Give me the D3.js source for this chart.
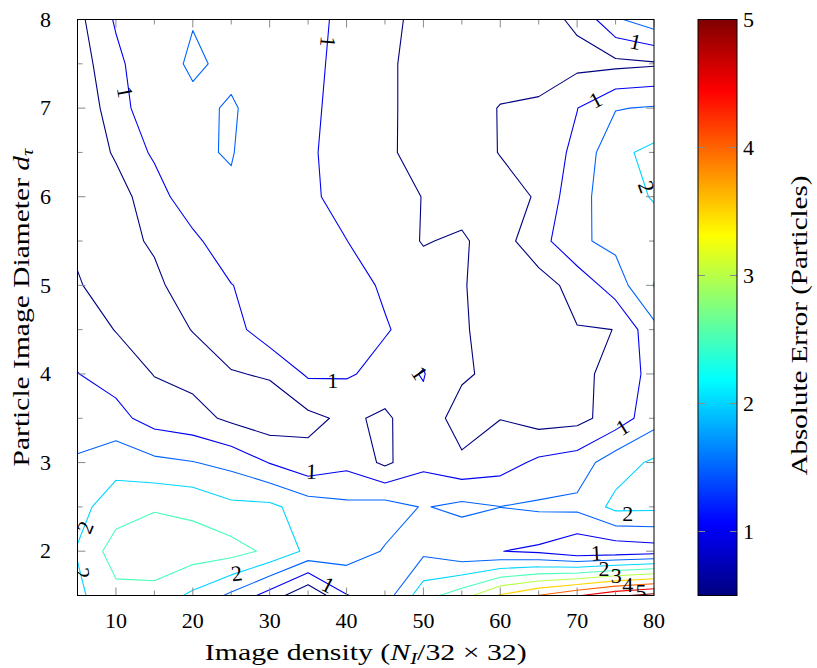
<!DOCTYPE html>
<html>
<head>
<meta charset="utf-8">
<script src="https://cdn.jsdelivr.net/npm/d3@7"></script>
<style>
  body { margin: 0; background: #fff; }
  text { font-family: "Liberation Serif", "Times New Roman", serif; fill: #000; }
</style>
</head>
<body>
<svg id="chart" width="817" height="668"></svg>
<script>
// Image density (N_I / 32x32) — grid columns
const densities = [5, 10, 15, 20, 25, 30, 35, 40, 45, 50, 55, 60, 65, 70, 75, 80];
// Particle image diameter d_tau — grid rows, top row first
const diameters = [8, 7.5, 7, 6.5, 6, 5.5, 5, 4.5, 4, 3.5, 3, 2.5, 2, 1.5];
// Absolute error (particles), one row per diameter, one value per density
const errorGrid = [
  [0.36, 1.06, 1.30, 1.49, 1.35, 1.20, 1.10, 0.92, 0.62, 0.37, 0.30, 0.30, 0.35, 0.574, 1.426, 1.80],
  [0.25, 0.87, 1.41, 1.53, 1.455, 1.25, 1.10, 0.88, 0.60, 0.30, 0.25, 0.30, 0.30, 0.37, 0.374, 0.44],
  [0.20, 0.71, 1.45, 1.455, 1.52, 1.41, 1.10, 0.82, 0.60, 0.30, 0.30, 0.52, 0.57, 0.99, 1.474, 1.546],
  [0.20, 0.55, 1.09, 1.44, 1.53, 1.155, 1.10, 0.715, 0.60, 0.29, 0.25, 0.52, 0.70, 1.117, 1.883, 2.127],
  [0.30, 0.34, 0.72, 1.40, 1.43, 1.30, 1.10, 0.81, 0.65, 0.49, 0.35, 0.30, 0.55, 1.38, 1.70, 2.05],
  [0.40, 0.35, 0.558, 0.85, 1.43, 1.30, 1.20, 1.008, 0.68, 0.48, 0.55, 0.30, 0.80, 1.425, 1.62, 1.69],
  [0.55, 0.20, 0.40, 0.75, 0.98, 1.31, 1.25, 1.15, 0.95, 0.65, 0.53, 0.30, 0.30, 0.67, 1.245, 2.02],
  [0.80, 0.48, 0.35, 0.51, 0.80, 1.30, 1.30, 1.25, 1.03, 0.84, 0.55, 0.30, 0.30, 0.48, 0.502, 1.36],
  [1.01, 0.82, 0.48, 0.35, 0.467, 0.55, 1.07, 1.05, 0.86, 1.02, 0.60, 0.30, 0.30, 0.35, 0.683, 1.163],
  [1.30, 1.15, 0.80, 0.68, 0.40, 0.20, 0.375, 0.60, 0.40, 0.90, 0.20, 0.49, 0.30, 0.35, 0.723, 1.30],
  [1.55, 1.837, 1.62, 1.52, 1.35, 0.98, 0.66, 0.86, 0.40, 0.876, 0.62, 0.784, 1.10, 1.245, 1.78, 2.08],
  [1.85, 2.245, 2.445, 2.38, 2.12, 2.11, 1.766, 1.62, 1.70, 1.47, 1.62, 1.505, 1.575, 1.62, 2.135, 2.11],
  [2.03, 2.75, 2.90, 2.76, 2.69, 2.40, 1.89, 1.746, 1.466, 1.39, 1.10, 1.01, 0.90, 0.60, 0.65, 0.75],
  [1.90, 2.35, 2.30, 1.90, 1.40, 0.794, 0.06, 0.977, 1.26, 2.30, 2.776, 3.55, 4.02, 4.45, 4.90, 5.18]
];
// Contour levels
const contourLevels = [0.5, 1, 1.5, 2, 2.5, 3, 3.5, 4, 4.5, 5];
// Axis ticks
const xTickValues = [10, 20, 30, 40, 50, 60, 70, 80];
const xMinorTicks = [15, 25, 35, 45, 55, 65, 75];
const yTickValues = [2, 3, 4, 5, 6, 7, 8];
const yMinorTicks = [1.5, 2.5, 3.5, 4.5, 5.5, 6.5, 7.5];
const colorbarTicks = [1, 2, 3, 4, 5];
// In-line contour labels: position (density, diameter), text, rotation
const contourLabels = [
  { x: 11.2, y: 7.18, text: "1", angle: 80 },
  { x: 37.6, y: 7.75, text: "1", angle: 95 },
  { x: 77.6, y: 7.75, text: "1", angle: 13 },
  { x: 72.4, y: 7.09, text: "1", angle: -28 },
  { x: 79.0, y: 6.11, text: "2", angle: 70 },
  { x: 38.2, y: 3.93, text: "1", angle: 0 },
  { x: 49.5, y: 4.01, text: "1", angle: 56 },
  { x: 75.9, y: 3.40, text: "1", angle: -32 },
  { x: 35.45, y: 2.90, text: "1", angle: 2 },
  { x: 6.0, y: 2.27, text: "2", angle: -68 },
  { x: 76.6, y: 2.43, text: "2", angle: 0 },
  { x: 5.6, y: 1.75, text: "2", angle: 80 },
  { x: 25.7, y: 1.75, text: "2", angle: -8 },
  { x: 37.6, y: 1.62, text: "1", angle: 27 },
  { x: 72.5, y: 1.98, text: "1", angle: -3 },
  { x: 73.5, y: 1.81, text: "2", angle: 0 },
  { x: 75.1, y: 1.73, text: "3", angle: 0 },
  { x: 76.6, y: 1.62, text: "4", angle: 0 },
  { x: 78.3, y: 1.54, text: "5", angle: 0 }
];

const svg = d3.select("#chart");
const plot = { left: 77.5, right: 654, top: 19.5, bottom: 595.5 };
const bar = { left: 698, right: 737 };

const x = d3.scaleLinear().domain([5, 80]).range([plot.left, plot.right]);
const y = d3.scaleLinear().domain([1.5, 8]).range([plot.bottom, plot.top]);

// jet colour map over the contour level range
const [vMin, vMax] = d3.extent(contourLevels);
const jetStops = [
  [0, [0, 0, 0.5]], [0.125, [0, 0, 1]], [0.375, [0, 1, 1]],
  [0.625, [1, 1, 0]], [0.875, [1, 0, 0]], [1, [0.5, 0, 0]]
];
const jet = d3.scaleLinear()
  .domain(jetStops.map(s => vMin + s[0] * (vMax - vMin)))
  .range(jetStops.map(s => d3.rgb(s[1][0] * 255, s[1][1] * 255, s[1][2] * 255)))
  .interpolate(d3.interpolateRgb)
  .clamp(true);

// Marching squares over the grid, linear interpolation on cell edges
function lerp(a, b, va, vb, lv) { return a + (lv - va) / (vb - va) * (b - a); }
function contourSegments(level) {
  const segs = [];
  for (let r = 0; r < diameters.length - 1; r++) {
    for (let c = 0; c < densities.length - 1; c++) {
      const x0 = densities[c], x1 = densities[c + 1];
      const yT = diameters[r], yB = diameters[r + 1];
      const tl = errorGrid[r][c], tr = errorGrid[r][c + 1];
      const bl = errorGrid[r + 1][c], br = errorGrid[r + 1][c + 1];
      const hi = v => v >= level;
      const top = hi(tl) !== hi(tr) ? [lerp(x0, x1, tl, tr, level), yT] : null;
      const right = hi(tr) !== hi(br) ? [x1, lerp(yT, yB, tr, br, level)] : null;
      const bottom = hi(bl) !== hi(br) ? [lerp(x0, x1, bl, br, level), yB] : null;
      const left = hi(tl) !== hi(bl) ? [x0, lerp(yT, yB, tl, bl, level)] : null;
      const edges = [top, right, bottom, left].filter(Boolean);
      if (edges.length === 2) {
        segs.push(edges);
      } else if (edges.length === 4) {
        const center = (tl + tr + bl + br) / 4;
        if (hi(center) === hi(tl)) {
          segs.push([top, right], [bottom, left]);
        } else {
          segs.push([top, left], [right, bottom]);
        }
      }
    }
  }
  return segs;
}

// clip for the plot area
const defs = svg.append("defs");
defs.append("clipPath").attr("id", "plot-clip")
  .append("rect")
  .attr("x", plot.left).attr("y", plot.top)
  .attr("width", plot.right - plot.left).attr("height", plot.bottom - plot.top);

const content = svg.append("g").attr("clip-path", "url(#plot-clip)");

// contour lines
contourLevels.forEach(level => {
  const segs = contourSegments(level);
  const d = segs.map(s => `M${x(s[0][0])},${y(s[0][1])}L${x(s[1][0])},${y(s[1][1])}`).join("");
  content.append("path")
    .attr("d", d)
    .attr("fill", "none")
    .attr("stroke", jet(level))
    .attr("stroke-width", 1.1)
    .attr("stroke-linecap", "round");
});

// contour labels
content.selectAll("text.clabel")
  .data(contourLabels)
  .join("text")
  .attr("class", "clabel")
  .attr("transform", d => `translate(${x(d.x)},${y(d.y)}) rotate(${d.angle})`)
  .attr("text-anchor", "middle")
  .attr("dy", "0.34em")
  .style("font-size", "22px")
  .text(d => d.text);

// ticks (inside, all four sides)
const tickColor = "#8a8a8a";
const ticks = svg.append("g").attr("stroke", tickColor).attr("stroke-width", 1);
function xTick(v, len) {
  ticks.append("line").attr("x1", x(v)).attr("x2", x(v)).attr("y1", plot.bottom).attr("y2", plot.bottom - len);
  ticks.append("line").attr("x1", x(v)).attr("x2", x(v)).attr("y1", plot.top).attr("y2", plot.top + len);
}
function yTick(v, len) {
  ticks.append("line").attr("y1", y(v)).attr("y2", y(v)).attr("x1", plot.left).attr("x2", plot.left + len);
  ticks.append("line").attr("y1", y(v)).attr("y2", y(v)).attr("x1", plot.right).attr("x2", plot.right - len);
}
xTickValues.forEach(v => xTick(v, 8));
xMinorTicks.forEach(v => xTick(v, 5));
yTickValues.forEach(v => yTick(v, 8));
yMinorTicks.forEach(v => yTick(v, 5));

// frame
svg.append("rect")
  .attr("x", plot.left).attr("y", plot.top)
  .attr("width", plot.right - plot.left).attr("height", plot.bottom - plot.top)
  .attr("fill", "none").attr("stroke", "#000").attr("stroke-width", 1);

// tick labels
svg.append("g").selectAll("text")
  .data(xTickValues)
  .join("text")
  .attr("x", d => x(d)).attr("y", 628)
  .attr("text-anchor", "middle")
  .style("font-size", "22px")
  .text(d => d);

svg.append("g").selectAll("text")
  .data(yTickValues)
  .join("text")
  .attr("x", 51).attr("y", d => y(d))
  .attr("dy", "0.33em")
  .attr("text-anchor", "end")
  .style("font-size", "22px")
  .text(d => d);

// Titles: a wide serif is emulated by scaling the face horizontally to a target width
function widenTitle(g, text, targetWidth) {
  const w = text.node().getComputedTextLength();
  text.attr("transform", `scale(${targetWidth / w},1)`);
}

const xtG = svg.append("g").attr("transform", `translate(${(plot.left + plot.right) / 2},660)`);
const xt = xtG.append("text").attr("text-anchor", "middle").style("font-size", "23px");
xt.append("tspan").text("Image density (");
xt.append("tspan").style("font-style", "italic").text("N");
xt.append("tspan").style("font-style", "italic").style("font-size", "16px").attr("dy", 4).text("I");
xt.append("tspan").attr("dy", -4).text("/32 \u00d7 32)");
widenTitle(xtG, xt, 322);

const ytG = svg.append("g").attr("transform", `translate(29,${(plot.top + plot.bottom) / 2}) rotate(-90)`);
const yt = ytG.append("text").attr("text-anchor", "middle").style("font-size", "23px");
yt.append("tspan").text("Particle Image Diameter ");
yt.append("tspan").style("font-style", "italic").text("d");
yt.append("tspan").style("font-style", "italic").style("font-size", "16px").attr("dy", 4).text("\u03c4");
widenTitle(ytG, yt, 318);

// colour bar
const cScale = d3.scaleLinear().domain([vMin, vMax]).range([plot.bottom, plot.top]);
const grad = defs.append("linearGradient").attr("id", "jet-grad")
  .attr("x1", 0).attr("y1", 1).attr("x2", 0).attr("y2", 0);
jetStops.forEach(s => {
  grad.append("stop").attr("offset", s[0])
    .attr("stop-color", d3.rgb(s[1][0] * 255, s[1][1] * 255, s[1][2] * 255));
});
svg.append("rect")
  .attr("x", bar.left).attr("y", plot.top)
  .attr("width", bar.right - bar.left).attr("height", plot.bottom - plot.top)
  .attr("fill", "url(#jet-grad)");
const cticks = svg.append("g").attr("stroke", tickColor).attr("stroke-width", 1);
colorbarTicks.forEach(v => {
  cticks.append("line").attr("x1", bar.left).attr("x2", bar.left + 7).attr("y1", cScale(v)).attr("y2", cScale(v));
  cticks.append("line").attr("x1", bar.right).attr("x2", bar.right - 7).attr("y1", cScale(v)).attr("y2", cScale(v));
});
svg.append("rect")
  .attr("x", bar.left).attr("y", plot.top)
  .attr("width", bar.right - bar.left).attr("height", plot.bottom - plot.top)
  .attr("fill", "none").attr("stroke", "#000").attr("stroke-width", 1);
svg.append("g").selectAll("text")
  .data(colorbarTicks)
  .join("text")
  .attr("x", 743).attr("y", d => cScale(d))
  .attr("dy", "0.33em")
  .style("font-size", "22px")
  .text(d => d);

const ctG = svg.append("g").attr("transform", `translate(807,${(plot.top + plot.bottom) / 2 + 18}) rotate(-90)`);
const ct = ctG.append("text").attr("text-anchor", "middle").style("font-size", "23px")
  .text("Absolute Error (Particles)");
widenTitle(ctG, ct, 300);
</script>
</body>
</html>
